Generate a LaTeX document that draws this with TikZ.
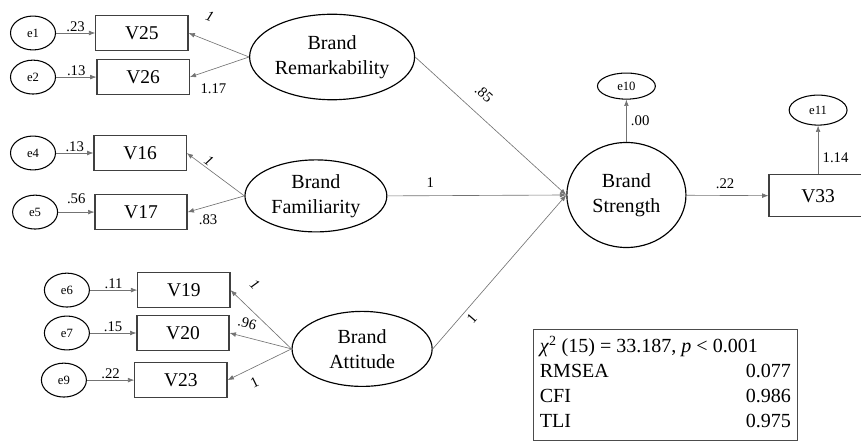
\documentclass[tikz,border=0pt]{standalone}
\usepackage{fontspec}
\setmainfont{Liberation Serif}
\usetikzlibrary{shapes.geometric,arrows.meta}

\begin{document}
\begin{tikzpicture}[
    latent/.style={ellipse, draw, line width=1.1pt, align=center, inner sep=0pt, font=\fontsize{19}{23.6}\selectfont},
    err/.style={ellipse, draw, line width=1pt, minimum width=1.5cm, minimum height=1.13cm, inner sep=0pt, font=\fontsize{12}{12}\selectfont},
    obs/.style={draw=black!75, line width=1.1pt, minimum width=3.07cm, minimum height=1.17cm, inner sep=0pt, font=\fontsize{18.5}{18.5}\selectfont},
    link/.style={draw=black!55, line width=0.6pt, -{Latex[length=6pt,width=4.5pt]}},
    coef/.style={font=\fontsize{14}{14}\selectfont, inner sep=1pt},
]
\clip (0, 0) rectangle (28.7, 14.7);

% latent variables
\node[latent, minimum width=5.5cm, minimum height=2.85cm] (remark) at (11.07, 12.8) {Brand\\Remarkability};
\node[latent, minimum width=4.73cm, minimum height=2.4cm] (famil) at (10.53, 8.17) {Brand\\Familiarity};
\node[latent, minimum width=4.67cm, minimum height=2.5cm] (attit) at (12.07, 3.07) {Brand\\Attitude};
\node[latent, minimum width=3.97cm, minimum height=3.5cm] (strength) at (20.88, 8.2) {Brand\\Strength};

% observed variables
\node[obs] (v25) at (4.73, 13.6) {V25};
\node[obs] (v26) at (4.77, 12.13) {V26};
\node[obs] (v16) at (4.67, 9.6) {V16};
\node[obs] (v17) at (4.7, 7.63) {V17};
\node[obs] (v19) at (6.13, 5.03) {V19};
\node[obs] (v20) at (6.1, 3.6) {V20};
\node[obs] (v23) at (6.03, 2.03) {V23};
\node[obs, minimum width=3.27cm, minimum height=1.4cm] (v33) at (27.27, 8.17) {V33};

% error terms
\node[err] (e1) at (1.1, 13.6) {e1};
\node[err] (e2) at (1.1, 12.13) {e2};
\node[err] (e4) at (1.1, 9.6) {e4};
\node[err] (e5) at (1.17, 7.63) {e5};
\node[err] (e6) at (2.23, 5.03) {e6};
\node[err] (e7) at (2.23, 3.6) {e7};
\node[err] (e9) at (2.13, 2.03) {e9};
\node[err, minimum width=1.93cm, minimum height=0.87cm] (e10) at (20.88, 11.83) {e10};
\node[err, minimum width=1.93cm, minimum height=1cm] (e11) at (27.27, 11.03) {e11};

% error paths
\draw[link] (e1) -- (v25) node[coef, midway, above] {.23};
\draw[link] (e2) -- (v26) node[coef, midway, above] {.13};
\draw[link] (e4) -- (v16) node[coef, midway, above] {.13};
\draw[link] (e5) -- (v17) node[coef, midway, above=7pt] {.56};
\draw[link] (e6) -- (v19) node[coef, midway, above] {.11};
\draw[link] (e7) -- (v20) node[coef, midway, above] {.15};
\draw[link] (e9) -- (v23) node[coef, midway, above] {.22};

% loadings
\draw[link] (remark.west) -- (v25.east) node[coef, pos=0.79, sloped, above=16pt] {\textit{1}};
\draw[link] (remark.west) -- (v26.east) node[coef, pos=0.6, below=13pt] {1.17};
\draw[link] (famil.west) -- (v16.east) node[coef, pos=0.69, sloped, above=1pt] {\textit{1}};
\draw[link] (famil.west) -- (v17.east) node[coef, pos=0.64, below=7pt] {.83};
\draw[link] (attit.west) -- (v19.east) node[coef, pos=0.84, sloped, above=14pt] {\textit{1}};
\draw[link] (attit.west) -- (v20.east) node[coef, pos=0.77, sloped, above=7pt] {.96};
\draw[link] (attit.west) -- (v23.east) node[coef, pos=0.67, sloped, below=7pt] {1};

% structural paths
\draw[link] (remark.east) -- (strength.west) node[coef, pos=0.37, sloped, above=12pt] {.85};
\draw[link] (famil.east) -- (strength.west) node[coef, pos=0.24, above=6pt] {1};
\draw[link] (attit.east) -- (strength.west) node[coef, pos=0.24, sloped, below=3pt] {1};
\draw[link] (strength) -- (e10) node[coef, midway, right=3pt] {.00};
\draw[link] (strength) -- (v33) node[coef, pos=0.47, above=5pt] {.22};
\draw[link] (v33) -- (e11) node[coef, pos=0.35, right=3pt] {1.14};

% fit indices
\node[draw=black!70, line width=0.8pt, minimum width=8.83cm, minimum height=3.67cm, inner sep=0pt,
      font=\fontsize{19}{23.7}\selectfont] (fit) at (22.18, 1.87)
  {\begin{tabular*}{8.37cm}{@{}l@{\extracolsep{\fill}}r@{}}
   \multicolumn{2}{@{}l@{}}{\textit{χ}\textsuperscript{2} (15) = 33.187, \textit{p} < 0.001}\\
   RMSEA & 0.077\\
   CFI & 0.986\\
   TLI & 0.975
   \end{tabular*}};
\end{tikzpicture}
\end{document}
